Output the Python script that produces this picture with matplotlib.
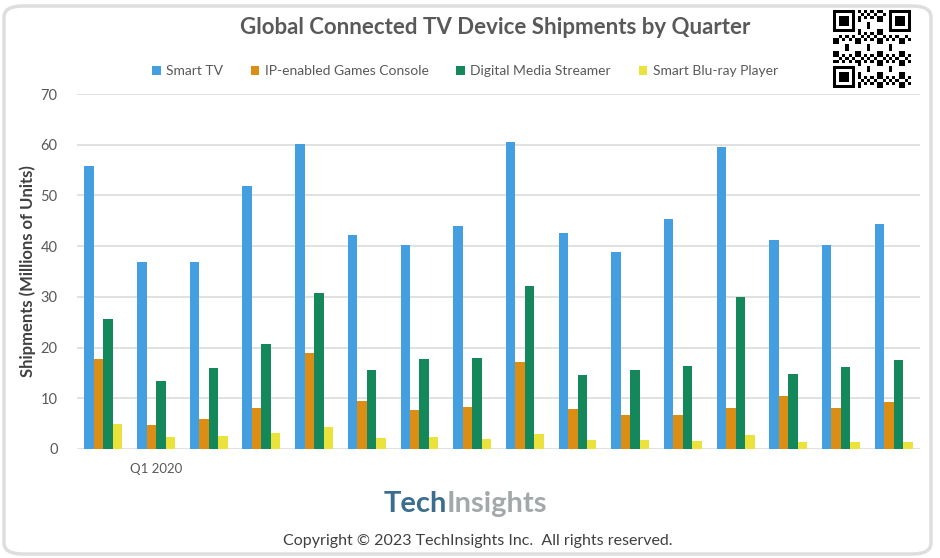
# Global Connected TV Device Shipments by Quarter - bar chart rebuild
import numpy as np
import matplotlib.pyplot as plt
from matplotlib.patches import FancyBboxPatch

# -------------------------------
# Data (millions of units)
# -------------------------------
quarters = ["Q4 2019", "Q1 2020", "Q2 2020", "Q3 2020", "Q4 2020",
            "Q1 2021", "Q2 2021", "Q3 2021", "Q4 2021",
            "Q1 2022", "Q2 2022", "Q3 2022", "Q4 2022",
            "Q1 2023", "Q2 2023", "Q3 2023"]
shown_labels = ["Q1 2020"]

smart_tv = [55.9, 36.8, 36.9, 51.9, 60.2, 42.2, 40.2, 44.0,
            60.6, 42.5, 38.8, 45.3, 59.5, 41.2, 40.3, 44.4]
games_console = [17.8, 4.8, 5.9, 8.0, 19.0, 9.4, 7.6, 8.3,
                 17.2, 7.8, 6.7, 6.7, 8.1, 10.5, 8.0, 9.3]
media_streamer = [25.6, 13.4, 16.0, 20.7, 30.8, 15.6, 17.8, 18.0,
                  32.1, 14.5, 15.6, 16.4, 29.9, 14.7, 16.1, 17.5]
bluray_player = [4.9, 2.3, 2.6, 3.1, 4.3, 2.1, 2.3, 2.0,
                 3.0, 1.7, 1.8, 1.6, 2.7, 1.3, 1.4, 1.4]

series_names = ["Smart TV", "IP-enabled Games Console",
                "Digital Media Streamer", "Smart Blu-ray Player"]
series_vals = [smart_tv, games_console, media_streamer, bluray_player]
colors = ["#449fe0", "#dc8e14", "#14885a", "#ebe33c"]

plt.rcParams["font.family"] = ["Lato", "DejaVu Sans"]

fig = plt.figure(figsize=(9.4, 5.58), dpi=100)
W, H = 940, 558

# rounded frame around the whole card (kept behind the axes)
frame = FancyBboxPatch((4 / W, 4 / H), 927 / W, 548 / H,
                       boxstyle="round,pad=0,rounding_size=0.02",
                       transform=fig.transFigure, facecolor="white",
                       edgecolor="#dedede", linewidth=2.5, zorder=-10)
fig.patches.append(frame)

# -------------------------------
# Main axes
# -------------------------------
ax = fig.add_axes([77 / W, 1 - 449 / H, 843 / W, 355 / H])
ax.set_facecolor("none")

x = np.arange(len(quarters))
bw = 0.18
for i, (name, vals, col) in enumerate(zip(series_names, series_vals, colors)):
    ax.bar(x + (i - 1.5) * bw, vals, width=bw, color=col, label=name, zorder=3)

ax.set_xlim(-0.5, len(quarters) - 0.5)
ax.set_ylim(0, 70)
ax.set_yticks(range(0, 71, 10))
ax.grid(axis="y", color="#dcdcdc", linewidth=1.2, zorder=0)
for s in ax.spines.values():
    s.set_visible(False)
ax.tick_params(axis="y", length=0, pad=14, labelsize=10.5, labelcolor="#595959")
ax.tick_params(axis="x", length=0, pad=10, labelsize=9.5, labelcolor="#595959")
ax.set_xticks(x)
ax.set_xticklabels([q if q in shown_labels else "" for q in quarters])
ax.set_ylabel("Shipments (Millions of Units)", fontsize=12, fontweight="bold",
              color="#404040", labelpad=3)

# -------------------------------
# Title and legend
# -------------------------------
fig.text(495 / W, 1 - 27 / H, "Global Connected TV Device Shipments by Quarter",
         ha="center", va="center", fontsize=16, fontweight="bold", color="#595959")

fig.legend(loc="center", bbox_to_anchor=(465 / W, 1 - 71 / H), ncol=4,
           frameon=False, fontsize=10, handlelength=0.6, handleheight=0.6,
           handletextpad=0.4, columnspacing=2.0, labelcolor="#595959")

# -------------------------------
# Logo + copyright
# -------------------------------
fig.text(447 / W, 1 - 504 / H, "Tech", ha="right", va="center",
         fontsize=21, fontweight="bold", color="#3b6e8e")
fig.text(447 / W, 1 - 504 / H, "Insights", ha="left", va="center",
         fontsize=21, fontweight="bold", color="#a3a8ab")
fig.text(478 / W, 1 - 541 / H, "Copyright \u00a9 2023 TechInsights Inc.  All rights reserved.",
         ha="center", va="center", fontsize=11.5, color="#404040")

# -------------------------------
# QR-code style badge (decorative)
# -------------------------------
qax = fig.add_axes([833 / W, 1 - 88 / H, 78 / W, 78 / H])
n = 25
ii, jj = np.meshgrid(np.arange(n), np.arange(n), indexing="ij")
grid = (((ii * ii * 3 + jj * jj * 5 + ii * jj * 7 + ii + 2 * jj) % 7) < 3).astype(float)
for (r0, c0) in [(0, 0), (0, n - 8), (n - 8, 0)]:
    grid[r0:r0 + 8, c0:c0 + 8] = 0
for (r0, c0) in [(0, 0), (0, n - 7), (n - 7, 0)]:
    grid[r0:r0 + 7, c0:c0 + 7] = 1
    grid[r0 + 1:r0 + 6, c0 + 1:c0 + 6] = 0
    grid[r0 + 2:r0 + 5, c0 + 2:c0 + 5] = 1
qax.imshow(grid, cmap="Greys", interpolation="nearest", vmin=0, vmax=1)
qax.axis("off")

fig.savefig("out.png", dpi=100)
